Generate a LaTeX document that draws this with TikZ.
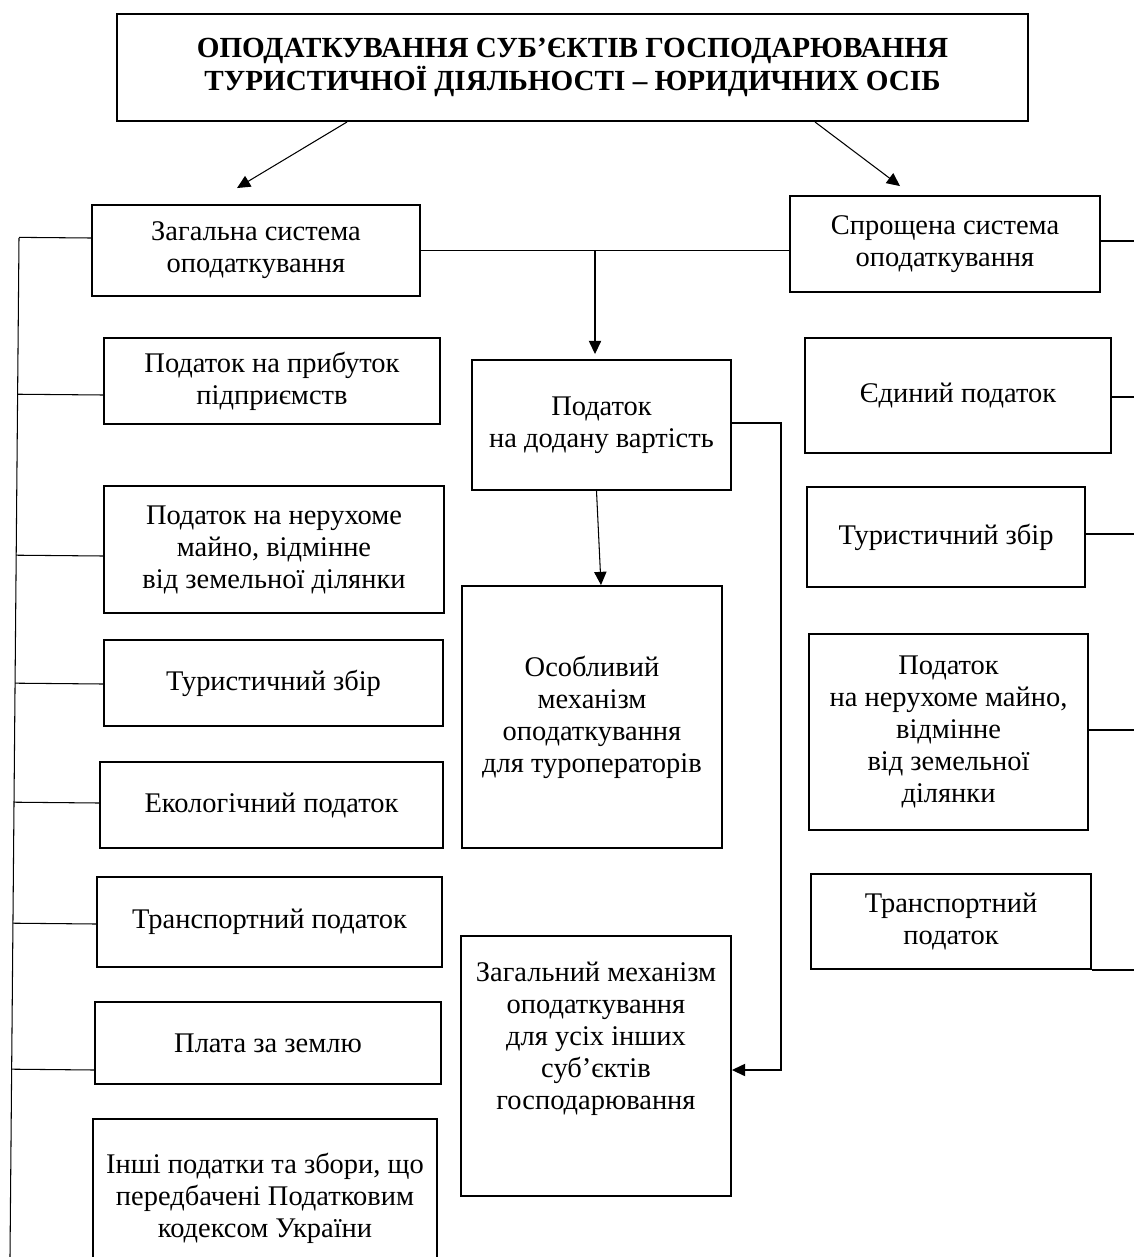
\documentclass[tikz,border=0pt]{standalone}
\usepackage{fontspec}
\setmainfont{Liberation Serif}
\usetikzlibrary{arrows.meta,calc}

\tikzset{
	box/.style={draw, line width=1.1pt, align=center, inner sep=2pt,
		font=\fontsize{16.2}{18.2}\selectfont},
	sz/.style 2 args={minimum width=#1*0.02cm, minimum height=#2*0.02cm},
	link/.style={line width=0.6pt},
	arr/.style={line width=0.6pt, -{Triangle[length=7.5pt,width=7pt]}}
}

\begin{document}
\begin{tikzpicture}[x=0.02cm, y=-0.02cm]
	% Page frame
	\clip (0,0) rectangle (1134,1257);
	
	% Title
	\node[box, sz={911}{107}, font=\fontsize{16.6}{18.7}\selectfont\bfseries] (title) at (572.5,67.5)
	{ОПОДАТКУВАННЯ СУБ’ЄКТІВ ГОСПОДАРЮВАННЯ\\ТУРИСТИЧНОЇ ДІЯЛЬНОСТІ – ЮРИДИЧНИХ ОСІБ};
	
	% Systems
	\node[box, sz={328}{91}] (gen) at (256,250.5) {Загальна система\\оподаткування};
	\node[box, sz={310}{96}] (simp) at (945,244) {Спрощена система\\оподаткування};
	
	% Left column
	\node[box, sz={336}{86}] (profit) at (272,381) {Податок на прибуток\\підприємств};
	\node[box, sz={340}{127}] (propL) at (274,549.5) {Податок на нерухоме\\майно, відмінне\\від земельної ділянки};
	\node[box, sz={339}{86}] (touL) at (273.5,683) {Туристичний збір};
	\node[box, sz={343}{86}] (eco) at (271.5,805) {Екологічний податок};
	\node[box, sz={345}{90}] (transL) at (269.5,922) {Транспортний податок};
	\node[box, sz={346}{82}] (land) at (268,1043) {Плата за землю};
	\node[box, sz={344}{158}] (other) at (265,1198) {Інші податки та збори, що\\передбачені Податковим\\кодексом України};
	
	% Middle column
	\node[box, sz={259}{130}] (vat) at (601.5,425) {Податок\\на додану вартість};
	\node[box, sz={260}{262}] (special) at (592,717) {Особливий\\механізм\\оподаткування\\для туроператорів};
	\node[box, sz={270}{260}, text depth=1.2cm] (general) at (596,1066)
	{Загальний механізм\\оподаткування\\для усіх інших\\суб’єктів\\господарювання};
	
	% Right column
	\node[box, sz={306}{115}] (single) at (958,395.5) {Єдиний податок};
	\node[box, sz={278}{100}] (touR) at (946,537) {Туристичний збір};
	\node[box, sz={279}{196}] (propR) at (948.5,732) {Податок\\на нерухоме майно,\\відмінне\\від земельної\\ділянки};
	\node[box, sz={280}{95}] (transR) at (951,921.5) {Транспортний\\податок};
	
	% Arrows from the title
	\draw[arr] ([xshift=-4.51cm]title.south) -- ([xshift=-0.38cm,yshift=0.32cm]gen.north);
	\draw[arr] ([xshift=4.85cm]title.south) -- ([xshift=-0.9cm,yshift=0.18cm]simp.north);
	
	% Link between the systems and VAT
	\draw[link] (gen.east) -- (gen.east -| simp.west);
	\draw[arr] ([xshift=-0.13cm]gen.east -| vat.north) -- ([xshift=-0.13cm,yshift=0.1cm]vat.north);
	\draw[arr] ([xshift=-0.1cm]vat.south) -- ([xshift=0.18cm]special.north);
	\draw[arr] ([yshift=0.04cm]vat.east) -- ++(49,0) |- ([yshift=-0.08cm]general.east);
	
	% Left bus
	\coordinate (busT) at (19,238);
	\coordinate (busB) at (10,1257);
	\draw[link] (busT) -- (busB);
	\foreach \n/\dy in {gen/0.25, profit/-0.28, propL/-0.13, touL/-0.02, eco/0.04, transL/-0.04, land/-0.54}
	\draw[link] ([yshift=\dy cm]\n.west) -- ($(busT)!([yshift=\dy cm]\n.west)!(busB)$);
	
	% Right branches to the page edge
	\coordinate (edge) at (1134,0);
	\foreach \n/\dy in {simp/0.06, single/-0.03, touR/0.06, propR/0.04}
	\draw[link] ([yshift=\dy cm]\n.east) -- ([yshift=\dy cm]\n.east -| edge);
	\draw[link] (transR.south east) -- (transR.south east -| edge);
\end{tikzpicture}
\end{document}
